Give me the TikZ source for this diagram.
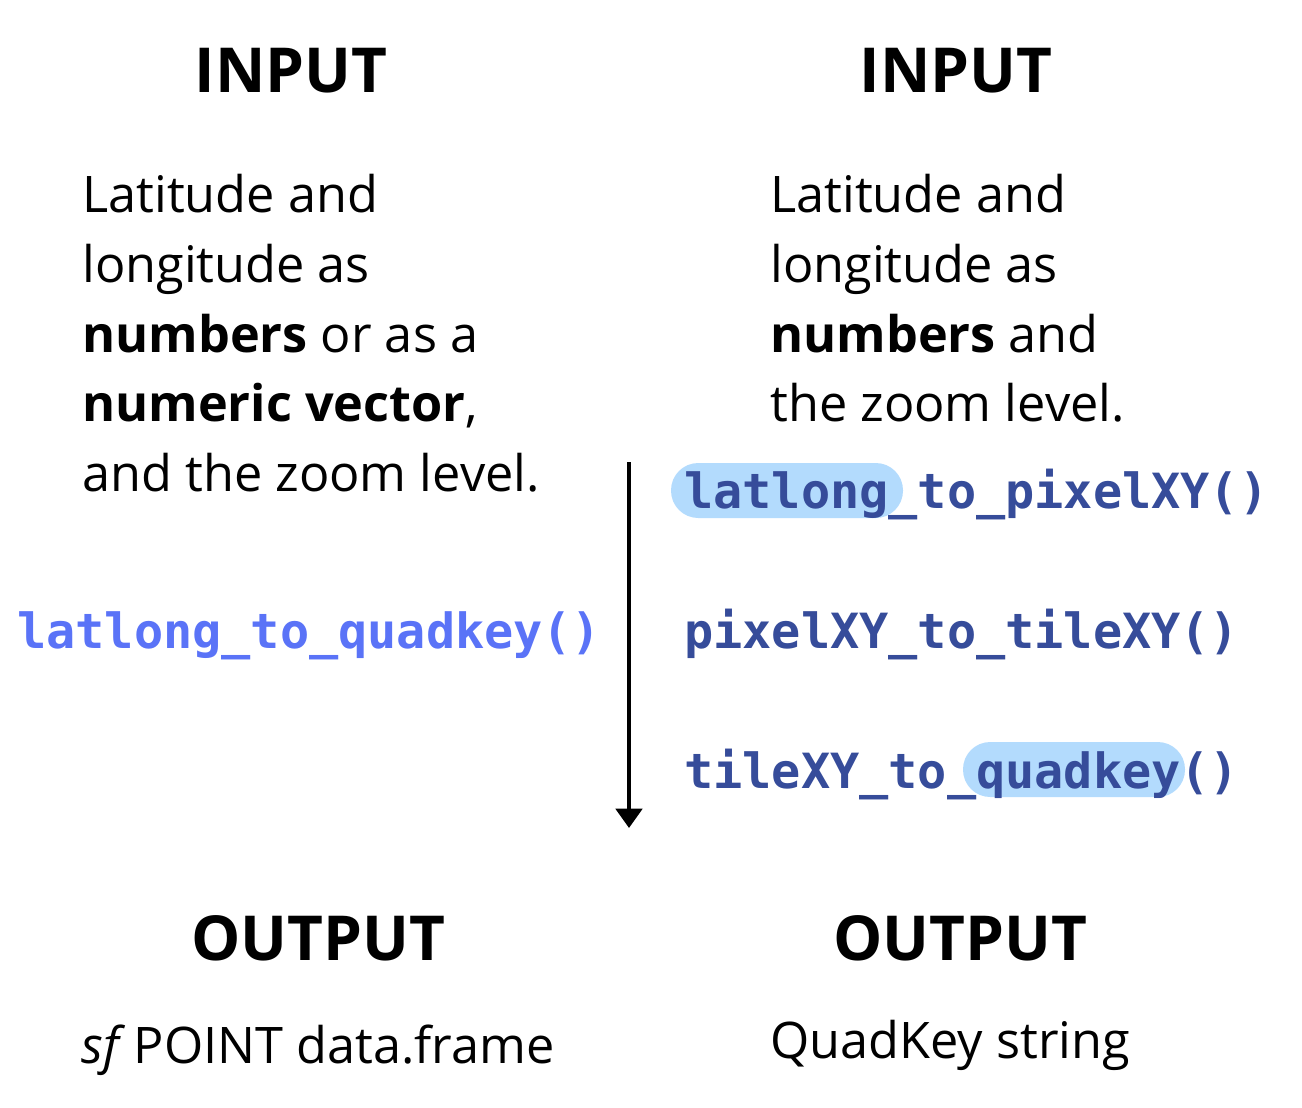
\documentclass[tikz,border=0pt]{standalone}
\usepackage{fontspec}
\setmainfont{Open Sans}
\newfontfamily\codefont{DejaVu Sans Mono}
\usetikzlibrary{arrows.meta}

\definecolor{fnlight}{HTML}{5A73F7}
\definecolor{fndark}{HTML}{364C9A}
\definecolor{fnmark}{HTML}{B3DBFD}

\begin{document}
\begin{tikzpicture}[x=0.02cm,y=-0.02cm]
\useasboundingbox (0,0) rectangle (1302,1108);

\tikzstyle{every node}=[inner sep=0pt];
\tikzstyle{heading}=[font=\fontsize{35.3}{42}\selectfont\bfseries,anchor=base];
\tikzstyle{para}=[font=\fontsize{28.7}{39.7}\selectfont,align=left,anchor=north west];
\tikzstyle{func}=[font=\codefont\bfseries\fontsize{27.6}{32}\selectfont,anchor=base west];

% Headings of both columns
\node[heading] (inl) at (291,93) {INPUT};
\node[heading] (inr) at (956,93) {INPUT};
\node[heading] (outl) at (318,960) {OUTPUT};
\node[heading] (outr) at (960,960) {OUTPUT};

% What goes in
\node[para] (descl) at (82,174) {Latitude and\\longitude as\\\textbf{numbers} or as a\\\textbf{numeric vector},\\and the zoom level.};
\node[para] (descr) at (770,174) {Latitude and\\longitude as\\\textbf{numbers} and\\the zoom level.};

% Highlights behind the code
\fill[fnmark,rounded corners=15.5pt] (671,463) rectangle (903,518);
\fill[fnmark,rounded corners=15.5pt] (963,742) rectangle (1185,797);

% The functions
\node[func,text=fnlight] (fq) at (17,648) {latlong\_to\_quadkey()};
\node[func,text=fndark] (fp) at (684,508) {latlong\_to\_pixelXY()};
\node[func,text=fndark] (ft) at (684,648) {pixelXY\_to\_tileXY()};
\node[func,text=fndark] (fk) at (684,788) {tileXY\_to\_quadkey()};

% Steps run from top to bottom
\coordinate (top) at (629,462);
\coordinate (bot) at (629,828);
\draw[line width=2.3pt,-{Triangle[width=15pt,length=11pt]}] (top) -- (bot);

% What comes out
\node[para,anchor=base west] (resl) at (81,1063) {\textit{sf}\,POINT data.frame};
\node[para,anchor=base west] (resr) at (770,1058) {QuadKey string};

\end{tikzpicture}
\end{document}
